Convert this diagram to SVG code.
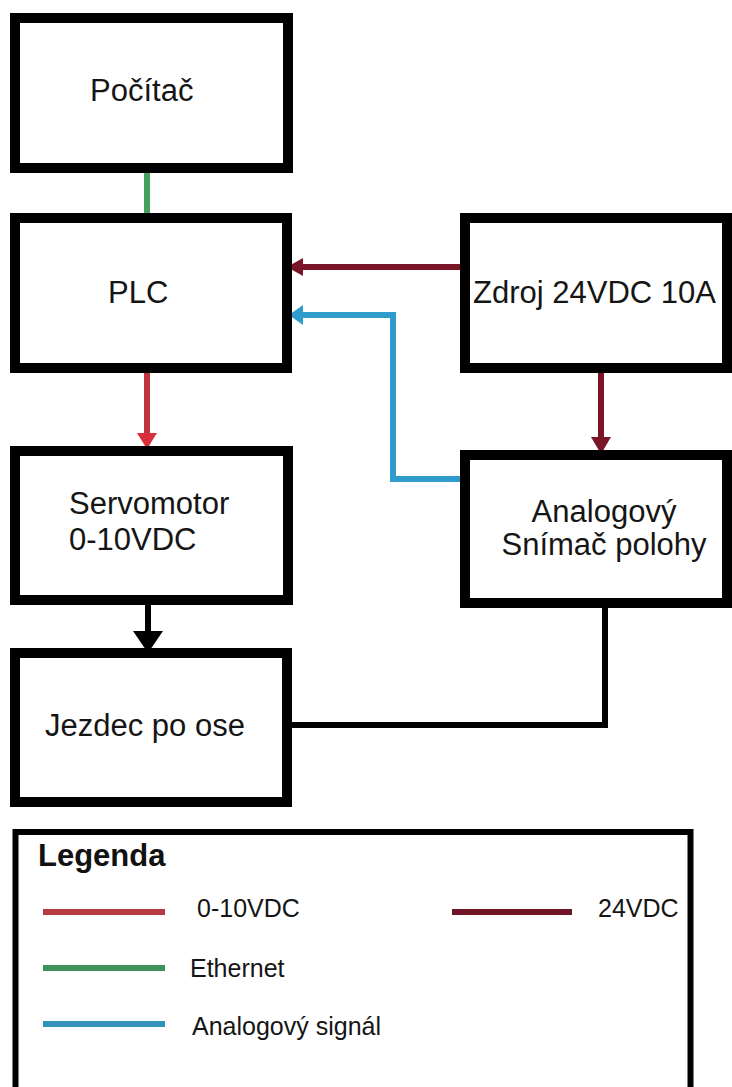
<svg xmlns="http://www.w3.org/2000/svg" width="732" height="1087" viewBox="0 0 732 1087">
<style>
.box{fill:#fff;stroke:#000;stroke-width:10}
.lbl{font-family:"Liberation Sans",Arial,sans-serif;font-size:31px;fill:#151515}
.leg{font-family:"Liberation Sans",Arial,sans-serif;font-size:25px;fill:#151515}
.w{fill:none;stroke-width:6}
.red{stroke:#c0343d}
.dred{stroke:#7a1427}
.green{stroke:#44a05c}
.blue{stroke:#2f9ccc}
</style>
<rect width="732" height="1087" fill="#fff"/>
<g id="connectors">
<line class="w green" x1="147" y1="173" x2="147" y2="213"/>
<line class="w dred" x1="462" y1="267" x2="298" y2="267"/>
<polygon fill="#7a1427" points="287,267 303,258 303,276"/>
<polyline class="w blue" points="462,479 393,479 393,315 300,315"/>
<polygon fill="#2f9ccc" points="289,315 303,305 303,325"/>
<line class="w red" x1="147" y1="373" x2="147" y2="436"/>
<polygon fill="#d8303a" points="137,433 157,433 147,449"/>
<line class="w dred" x1="601" y1="373" x2="601" y2="440"/>
<polygon fill="#7a1427" points="591,437 611,437 601,454"/>
<line class="w" stroke="#000" stroke-width="8" x1="148" y1="605" x2="148" y2="634"/>
<polygon fill="#000" points="133,631 163,631 150,650 146,650"/>
<polyline class="w" stroke="#000" points="605,608 605,725 292,725"/>
</g>
<g id="pocitac"><rect class="box" x="15" y="18" width="273" height="150"/><text class="lbl" x="90" y="101">Počítač</text></g>
<g id="plc"><rect class="box" x="15" y="218" width="272" height="150"/><text class="lbl" x="108" y="303">PLC</text></g>
<g id="zdroj"><rect class="box" x="465" y="218" width="262" height="150"/><text class="lbl" x="473" y="303">Zdroj 24VDC 10A</text></g>
<g id="servo"><rect class="box" x="15" y="451" width="273" height="149"/><text class="lbl" x="69" y="514">Servomotor</text><text class="lbl" x="69" y="550">0-10VDC</text></g>
<g id="snimac"><rect class="box" x="465" y="455" width="262" height="148"/><text class="lbl" x="604" y="522" text-anchor="middle">Analogový</text><text class="lbl" x="604" y="555" text-anchor="middle">Snímač polohy</text></g>
<g id="jezdec"><rect class="box" x="15" y="653" width="272" height="149"/><text class="lbl" x="45" y="736">Jezdec po ose</text></g>
<g id="legenda">
<rect x="15.5" y="832" width="675" height="262" fill="#fff" stroke="#000" stroke-width="6"/>
<text x="38" y="866" font-family="Liberation Sans,Arial,sans-serif" font-size="31" font-weight="bold" fill="#111">Legenda</text>
<line x1="43" y1="912" x2="165" y2="912" stroke="#b83a43" stroke-width="6"/>
<text class="leg" x="197" y="917">0-10VDC</text>
<line x1="452" y1="912" x2="572" y2="912" stroke="#6e1526" stroke-width="6"/>
<text class="leg" x="598" y="917">24VDC</text>
<line x1="43" y1="968" x2="165" y2="968" stroke="#3f935a" stroke-width="6"/>
<text class="leg" x="190" y="977">Ethernet</text>
<line x1="43" y1="1024" x2="165" y2="1024" stroke="#3393ba" stroke-width="6"/>
<text class="leg" x="192" y="1035">Analogový signál</text>
</g>
</svg>
